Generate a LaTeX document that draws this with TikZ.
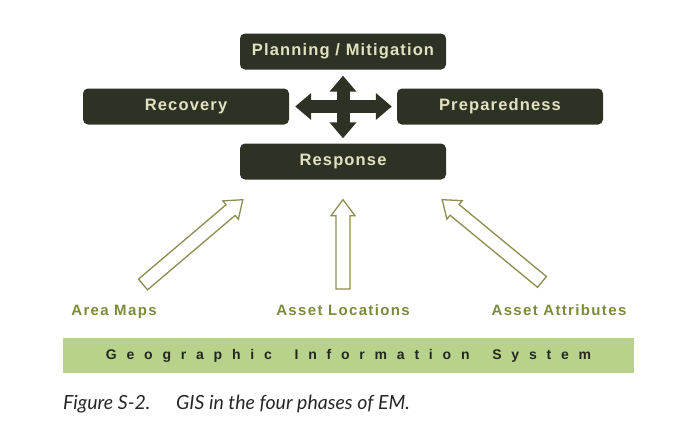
\documentclass[tikz,border=0pt]{standalone}
\usepackage{fontspec}
\usepackage{tikz}
\usetikzlibrary{arrows.meta}
\usetikzlibrary{calc}

\newfontfamily\phasefont[LetterSpace=7]{Liberation Sans}
\newfontfamily\sourcefont[LetterSpace=9]{Liberation Sans}
\newfontfamily\gisfont[LetterSpace=70]{Liberation Sans}
\newfontfamily\capfont{Lato}

\definecolor{boxfill}{RGB}{45,50,37}
\definecolor{boxtext}{RGB}{226,226,192}
\definecolor{labelgreen}{RGB}{122,140,58}
\definecolor{arrowline}{RGB}{140,140,80}
\definecolor{gisgreen}{RGB}{184,210,140}
\definecolor{gistext}{RGB}{35,40,30}

% hollow block arrow: tail, tip, name
\newcommand{\openarrow}[3]{%
	\coordinate (#3base) at ($(#2)!16pt!(#1)$);
	\draw[inarrow] ($(#1)!7pt!90:(#2)$) -- ($(#3base)!7pt!90:(#2)$) -- ($(#3base)!12pt!90:(#2)$) -- (#2)
		-- ($(#3base)!12pt!-90:(#2)$) -- ($(#3base)!7pt!-90:(#2)$) -- ($(#1)!7pt!-90:(#2)$) -- cycle;}

\begin{document}
\begin{tikzpicture}[x=1pt,y=-1pt,phase/.style={rounded corners=5pt, fill=boxfill, text=boxtext, minimum width=206pt, minimum height=36pt, inner sep=0pt, font=\phasefont\bfseries\fontsize{16.5}{18}\selectfont},
	source/.style={text=labelgreen, inner sep=0pt, anchor=base, font=\sourcefont\bfseries\fontsize{15}{17}\selectfont},
	inarrow/.style={draw=arrowline, line width=1.3pt, line join=miter},
	crossarrow/.style={draw=boxfill, line width=13pt, shorten <=6pt, shorten >=5pt, arrows={Triangle[width=26pt,length=16pt]-Triangle[width=26pt,length=16pt]}}]
	
	\useasboundingbox (0,0) rectangle (688,445);
	
	\node[phase] (plan) at (343,51.5) {Planning / Mitigation};
	\node[phase] (rec) at (186,106.5) {Recovery};
	\node[phase] (prep) at (500,106.5) {Preparedness};
	\node[phase] (resp) at (343,161.5) {Response};
	
	\draw[crossarrow] (rec) -- (prep);
	\draw[crossarrow] (plan) -- (resp);
	
	\node[source] (maps) at (114,315) {Area Maps};
	\node[source] (loc) at (343,315) {Asset Locations};
	\node[source] (attr) at (559,315) {Asset Attributes};
	
	\coordinate (mapstail) at ($(maps.north)+(29,-20)$);
	\coordinate (mapstip) at ($(resp.south west)+(3,20)$);
	\coordinate (loctail) at ($(loc.north)+(0,-15)$);
	\coordinate (loctip) at ($(resp.south)+(0,20)$);
	\coordinate (attrtail) at ($(attr.north)+(-17,-22)$);
	\coordinate (attrtip) at ($(resp.south east)+(-4,20)$);
	\openarrow{mapstail}{mapstip}{maps}
	\openarrow{loctail}{loctip}{loc}
	\openarrow{attrtail}{attrtip}{attr}
	
	\node[fill=gisgreen, minimum width=571pt, minimum height=35pt, inner sep=0pt, text=gistext, font=\gisfont\bfseries\fontsize{14}{15}\selectfont] (gis) at (348.5,355.5) {Geographic\hspace{9pt} Information\hspace{9pt} System};
	
	\node[anchor=base west, inner sep=0pt, text=black!85, font=\capfont\itshape\fontsize{19.5}{22}\selectfont] (caption) at (63,409) {Figure S-2.\hspace{1em} GIS in the four phases of EM.};
	
\end{tikzpicture}
\end{document}
